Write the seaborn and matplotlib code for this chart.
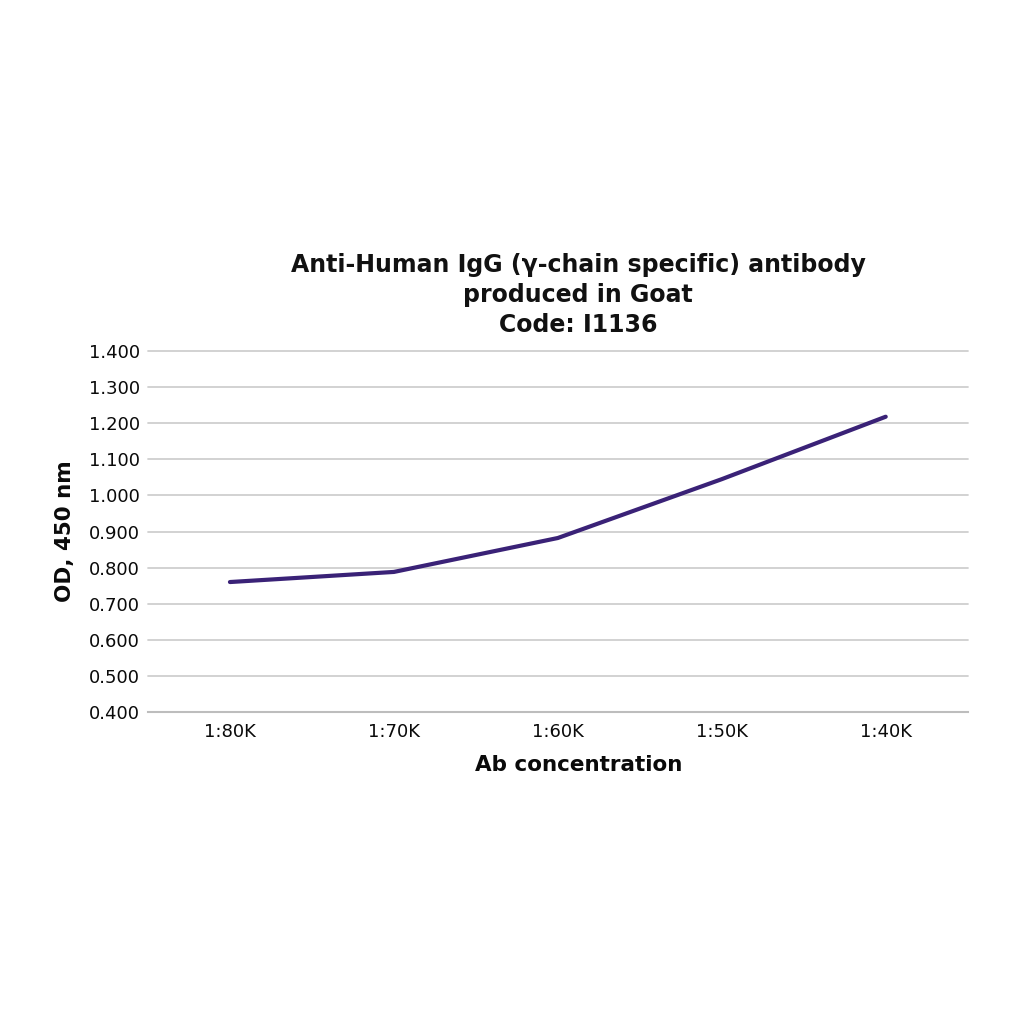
import matplotlib
matplotlib.use("Agg")
import matplotlib.pyplot as plt
import seaborn as sns
import pandas as pd

dilutions = ["1:80K", "1:70K", "1:60K", "1:50K", "1:40K"]
od_450 = [0.760, 0.788, 0.882, 1.045, 1.218]
yticks = [0.4, 0.5, 0.6, 0.7, 0.8, 0.9, 1.0, 1.1, 1.2, 1.3, 1.4]

sns.set_style("white")
plt.rcParams["font.family"] = ["DejaVu Sans"]

df = pd.DataFrame({"dilution": dilutions, "od": od_450})

fig = plt.figure(figsize=(10.24, 10.24), dpi=100)
ax = fig.add_axes([0.1445, 0.3047, 0.8005, 0.3525])

sns.lineplot(data=df, x="dilution", y="od", sort=False, color="#3a2277",
             linewidth=3, ax=ax, solid_capstyle="round")

ax.set_xlim(-0.5, len(dilutions) - 0.5)
ax.set_ylim(0.4, 1.4)
ax.set_yticks(yticks)
ax.set_yticklabels([f"{v:.3f}" for v in yticks])
ax.yaxis.grid(True, color="#cfcfcf", linewidth=1.3)
for gl in ax.get_ygridlines():
    gl.set_clip_on(False)
ax.set_axisbelow(True)
for s in ["top", "right", "left"]:
    ax.spines[s].set_visible(False)
ax.spines["bottom"].set_color("#bdbdbd")
ax.spines["bottom"].set_linewidth(1.5)
ax.tick_params(axis="both", length=0, labelsize=13, colors="#0a0a0a", pad=8)
ax.tick_params(axis="y", pad=6)

ax.set_xlabel("Ab concentration", fontsize=15.5, fontweight="bold",
              labelpad=11, color="#0a0a0a")
ax.xaxis.set_label_coords(0.525, -0.12)
ax.set_ylabel("OD, 450 nm", fontsize=15.5, fontweight="bold",
              labelpad=10, color="#0a0a0a")
ax.set_title("Anti-Human IgG (\u03b3-chain specific) antibody\nproduced in Goat\nCode: I1136",
             fontsize=17, fontweight="bold", linespacing=1.3, pad=14,
             color="#111111", x=0.525)

fig.savefig("out.png", dpi=100, facecolor="white")
